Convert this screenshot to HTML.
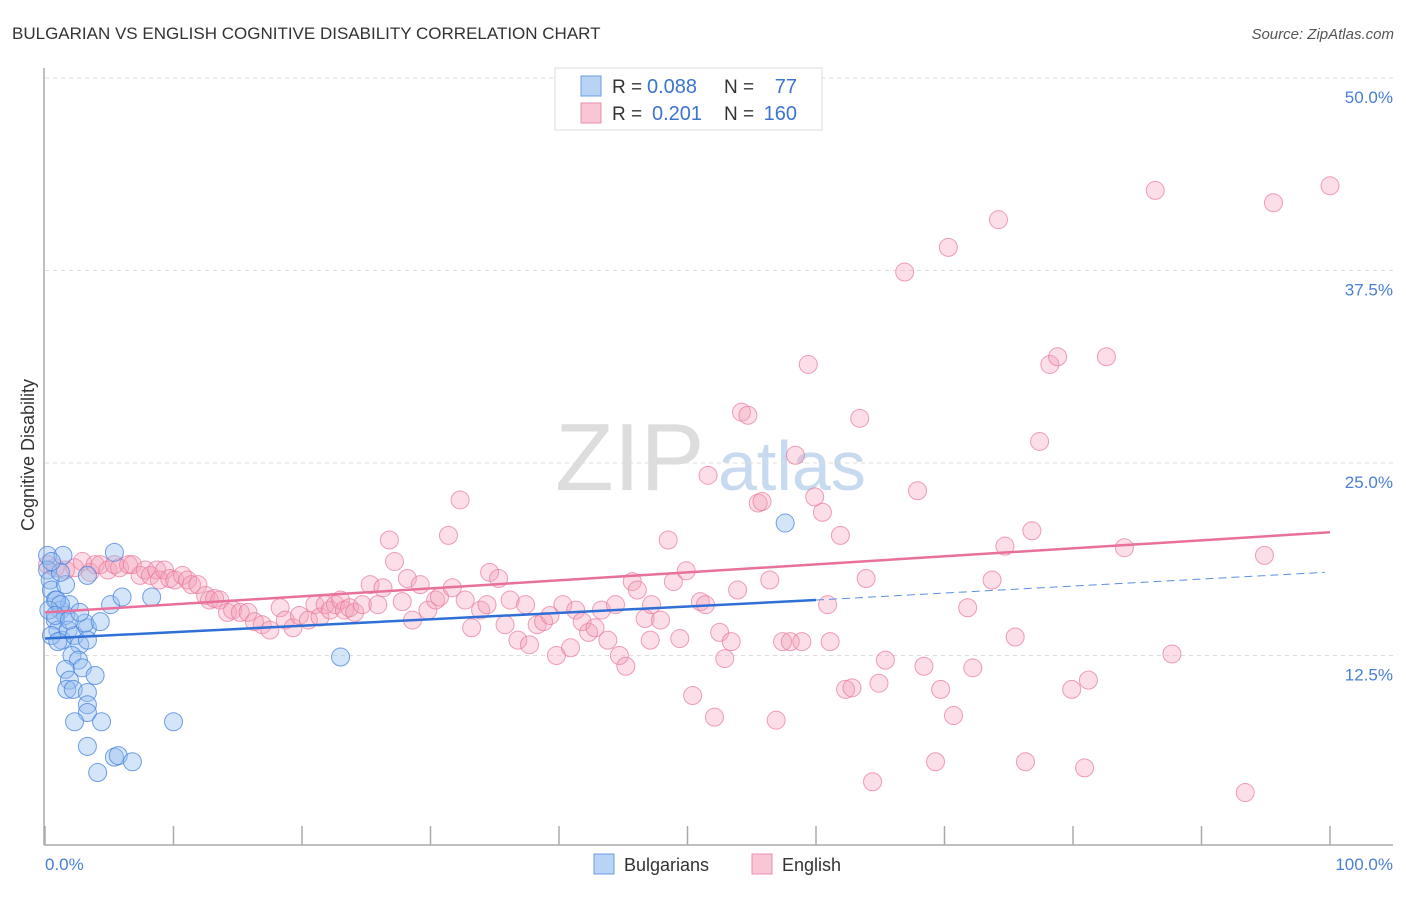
<!DOCTYPE html>
<html><head><meta charset="utf-8"><style>
body{margin:0;background:#fff;font-family:"Liberation Sans",sans-serif;}
svg text{font-family:"Liberation Sans",sans-serif;}
</style></head><body>
<svg id="chart" width="1406" height="892" xmlns="http://www.w3.org/2000/svg">
<text x="12" y="39" font-size="17" fill="#333">BULGARIAN VS ENGLISH COGNITIVE DISABILITY CORRELATION CHART</text>
<text x="1394" y="39" font-size="15" fill="#555" font-style="italic" text-anchor="end">Source: ZipAtlas.com</text>
<g>
<text x="555" y="490" font-size="96" fill="#ddd" font-family="Liberation Serif,serif">ZIP</text>
<text x="718" y="490" font-size="70" fill="#c8daf0">atlas</text>
</g>
<g id="grid"></g>
<g id="axes"></g>
<g id="pts"></g>
<g id="trends"></g>
<text transform="translate(34,455) rotate(-90)" font-size="18" fill="#333" text-anchor="middle">Cognitive Disability</text>
<text x="45" y="870" font-size="17" fill="#4a7fd4">0.0%</text>
<text x="1393" y="870" font-size="17" fill="#4a7fd4" text-anchor="end">100.0%</text>
<g>
<rect x="555" y="68" width="267" height="62" fill="#fff" stroke="#ddd"/>
<rect x="581" y="76" width="20" height="20" fill="#b9d3f5" stroke="#6a9be0"/>
<rect x="581" y="103" width="20" height="20" fill="#f9c6d5" stroke="#e890aa"/>
<text x="612" y="93" font-size="19" fill="#333">R =</text>
<text x="647" y="93" font-size="20" fill="#3d74d0">0.088</text>
<text x="724" y="93" font-size="19" fill="#333">N =</text>
<text x="797" y="93" font-size="20" fill="#3d74d0" text-anchor="end">77</text>
<text x="612" y="120" font-size="19" fill="#333">R =</text>
<text x="652" y="120" font-size="20" fill="#3d74d0">0.201</text>
<text x="724" y="120" font-size="19" fill="#333">N =</text>
<text x="797" y="120" font-size="20" fill="#3d74d0" text-anchor="end">160</text>
</g>
<g>
<rect x="594" y="854" width="20" height="20" fill="#b9d3f5" stroke="#6a9be0"/>
<text x="624" y="871" font-size="18" fill="#333">Bulgarians</text>
<rect x="752" y="854" width="20" height="20" fill="#f9c6d5" stroke="#e890aa"/>
<text x="782" y="871" font-size="18" fill="#333">English</text>
</g>
</svg>
<script>
const yTicks=[12.5,25,37.5,50];
const yTickLabels=["12.5%","25.0%","37.5%","50.0%"];
const xTicks=[0,10,20,30,40,50,60,70,80,90,100];
const blueX=[0.2,0.2,0.4,0.5,0.8,1.4,1.6,1.2,1.6,1.9,0.8,1.0,1.3,1.8,2.3,2.7,2.1,2.6,1.6,2.9,1.9,3.3,3.1,4.3,3.9,1.7,2.2,3.3,3.3,3.3,2.3,4.4,3.3,4.1,5.4,5.7,6.8,5.1,6.0,8.3,5.4,3.3,1.2,0.5,0.9,1.2,0.5,1.0,10.0,23.0,57.6,0.3,0.8,1.9,2.7,3.3];
const blueY=[19.0,18.05,17.4,16.75,16.1,19.0,17.1,15.45,15.1,15.8,14.8,14.15,13.5,14.15,13.8,13.2,12.5,12.2,11.6,11.7,10.9,14.3,14.6,14.7,11.2,10.3,10.3,10.1,9.3,8.8,8.2,8.2,6.6,4.9,5.9,6.0,5.6,15.8,16.3,16.3,19.2,17.7,17.9,18.6,16.1,15.8,13.8,13.4,8.2,12.4,21.1,15.45,15.1,14.8,15.3,13.5];
const pinkX=[0.2,0.8,1.6,2.3,2.9,3.5,3.9,4.3,4.9,5.4,5.8,6.5,6.8,7.4,7.8,8.2,8.7,8.9,9.3,9.7,10.1,10.7,11.1,11.4,11.9,12.5,12.8,13.2,13.6,14.2,14.6,15.2,15.8,16.3,16.9,17.5,18.3,18.7,19.3,19.8,20.5,21.0,21.4,21.8,22.2,22.6,23.0,23.3,23.7,24.1,24.7,25.3,25.9,26.3,26.8,27.2,27.8,28.2,28.6,29.2,29.8,30.4,30.7,31.4,31.7,32.3,32.7,33.2,33.9,34.4,34.6,35.3,35.8,36.2,36.8,37.4,37.7,38.3,38.8,39.3,39.8,40.3,40.9,41.3,41.8,42.3,42.8,43.3,43.8,44.4,44.7,45.2,45.7,46.1,46.7,47.1,47.2,47.9,48.5,48.9,49.4,49.9,50.4,51.0,51.4,51.6,52.1,52.5,52.9,53.4,53.9,54.2,54.7,55.5,55.8,56.4,56.9,57.4,58.0,58.4,58.9,59.4,59.9,60.5,60.9,61.1,61.9,62.3,62.8,63.4,63.9,64.4,64.9,65.4,66.9,67.9,68.4,69.3,69.7,70.3,70.7,71.8,72.2,73.7,74.2,75.5,74.7,76.3,76.8,77.4,78.2,78.8,79.9,80.9,81.2,82.6,84.0,86.4,87.7,93.4,94.9,95.6,100];
const pinkY=[18.4,18.2,18.05,18.2,18.6,17.9,18.4,18.4,18.05,18.4,18.2,18.4,18.4,17.7,18.05,17.7,18.05,17.4,18.05,17.5,17.4,17.7,17.4,17.1,17.1,16.4,16.1,16.2,16.1,15.3,15.45,15.3,15.3,14.7,14.5,14.15,15.6,14.8,14.3,15.1,14.8,15.8,15.0,15.8,15.45,15.8,16.1,15.45,15.6,15.3,15.8,17.1,15.8,16.9,20.0,18.6,16.0,17.5,14.8,17.1,15.45,16.1,16.3,20.3,16.9,22.6,16.1,14.3,15.45,15.8,17.9,17.5,14.5,16.1,13.5,15.8,13.2,14.5,14.7,15.1,12.5,15.8,13.0,15.45,14.7,14.0,14.3,15.45,13.5,15.8,12.5,11.8,17.3,16.75,14.9,13.5,15.8,14.8,20.0,17.3,13.6,18.0,9.9,16.0,15.8,24.2,8.5,14.0,12.3,13.4,16.75,28.3,28.1,22.4,22.5,17.4,8.3,13.4,13.4,25.5,13.4,31.4,22.8,21.8,15.8,13.4,20.3,10.3,10.4,27.9,17.5,4.3,10.7,12.2,37.4,23.2,11.8,5.6,10.3,39.0,8.6,15.6,11.7,17.4,40.8,13.7,19.6,5.6,20.6,26.4,31.4,31.9,10.3,5.2,10.9,31.9,19.5,42.7,12.6,3.6,19.0,41.9,43.0];
const trendBlue=[13.6,16.1,17.9];
const trendPink=[15.3,20.5];
const NS="http://www.w3.org/2000/svg";
const X0=45,X1=1330,YB=848,YT=78;
function sx(v){return X0+(X1-X0)*v/100;}
function sy(v){return YB-(YB-YT)*v/50;}
function mk(tag,attrs,parent){const e=document.createElementNS(NS,tag);for(const k in attrs)e.setAttribute(k,attrs[k]);document.getElementById(parent).appendChild(e);return e;}
yTicks.forEach((t,i)=>{
 const l=mk('line',{x1:45,x2:1393,y1:sy(t),y2:sy(t),stroke:'#ddd','stroke-dasharray':'4,4'},'grid');
 
 
 const tx=mk('text',{x:1393,y:sy(t)+25,'font-size':17,fill:'#4a7fd4','text-anchor':'end'},'grid');
 tx.textContent=yTickLabels[i];
 
 
});
let ax=mk('line',{x1:44,x2:44,y1:68,y2:845,stroke:'#aaa','stroke-width':1.5},'axes');


ax=mk('line',{x1:44,x2:1393,y1:845,y2:845,stroke:'#aaa','stroke-width':1.5},'axes');


xTicks.forEach(t=>{
 const l=mk('line',{x1:sx(t),x2:sx(t),y1:826,y2:845,stroke:'#aaa','stroke-width':1.5},'axes');
 
 
});
pinkX.forEach((x,i)=>{
 const c=mk('circle',{cx:sx(x),cy:sy(pinkY[i]),r:9,fill:'rgba(244,160,185,0.35)',stroke:'rgba(232,120,155,0.7)','stroke-width':1},'pts');
 
 
});
blueX.forEach((x,i)=>{
 const c=mk('circle',{cx:sx(x),cy:sy(blueY[i]),r:9,fill:'rgba(150,190,240,0.4)',stroke:'rgba(70,130,220,0.75)','stroke-width':1},'pts');
 
 
});
let tl=mk('line',{x1:sx(0),y1:sy(trendBlue[0]),x2:sx(60),y2:sy(trendBlue[1]),stroke:'#2f6fd6','stroke-width':2.5},'trends');


tl=mk('line',{x1:sx(60),y1:sy(trendBlue[1]),x2:sx(99.6),y2:sy(trendBlue[2]),stroke:'#5a8fe0','stroke-width':1,'stroke-dasharray':'8,5'},'trends');


tl=mk('line',{x1:sx(0),y1:sy(trendPink[0]),x2:sx(100),y2:sy(trendPink[1]),stroke:'#e8709a','stroke-width':2.5},'trends');


</script>
</body></html>
